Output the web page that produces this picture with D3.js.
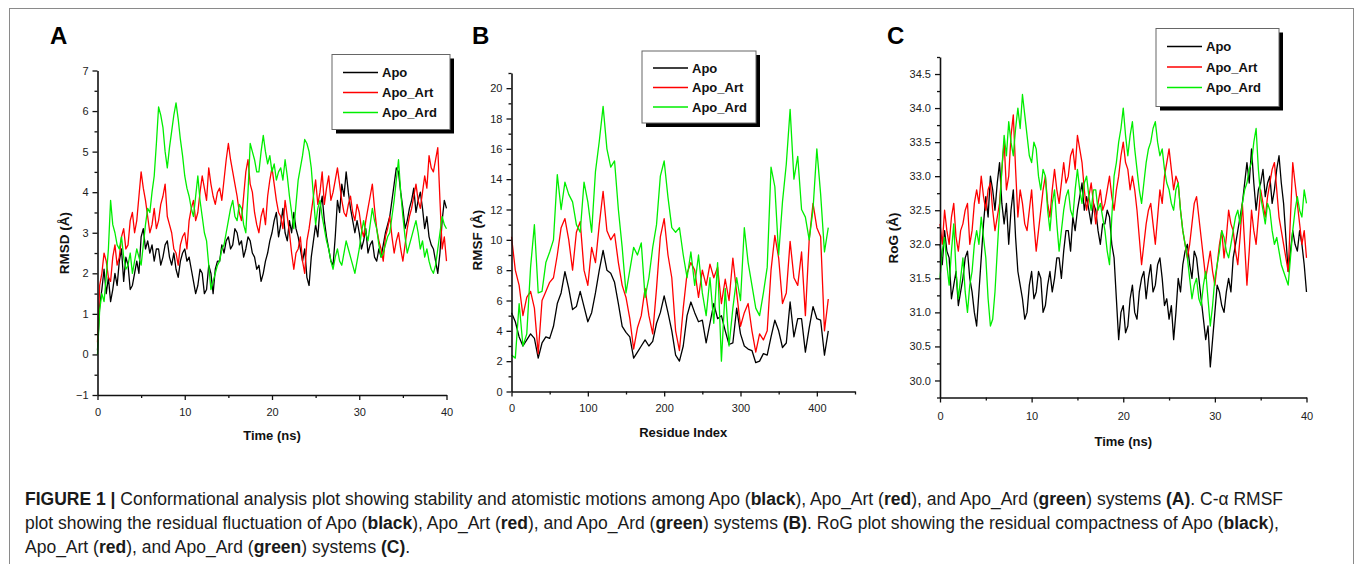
<!DOCTYPE html>
<html>
<head>
<meta charset="utf-8">
<script src="https://cdn.jsdelivr.net/npm/d3@7"></script>
<style>
  body { margin: 0; background: #fff; }
  svg { display: block; font-family: "Liberation Sans", Arial, Helvetica, sans-serif; }
</style>
</head>
<body>
<svg id="fig" width="1358" height="564"></svg>
<script>
// ---- data ----
// simulation time (ns), sampled every 0.25 ns
const timeNs = [0,0.25,0.5,0.75,1,1.25,1.5,1.75,2,2.25,2.5,2.75,3,3.25,3.5,3.75,4,4.25,4.5,4.75,
  5,5.25,5.5,5.75,6,6.25,6.5,6.75,7,7.25,7.5,7.75,8,8.25,8.5,8.75,9,9.25,9.5,9.75,
  10,10.25,10.5,10.75,11,11.25,11.5,11.75,12,12.25,12.5,12.75,13,13.25,13.5,13.75,14,14.25,14.5,14.75,
  15,15.25,15.5,15.75,16,16.25,16.5,16.75,17,17.25,17.5,17.75,18,18.25,18.5,18.75,19,19.25,19.5,19.75,
  20,20.25,20.5,20.75,21,21.25,21.5,21.75,22,22.25,22.5,22.75,23,23.25,23.5,23.75,24,24.25,24.5,24.75,
  25,25.25,25.5,25.75,26,26.25,26.5,26.75,27,27.25,27.5,27.75,28,28.25,28.5,28.75,29,29.25,29.5,29.75,
  30,30.25,30.5,30.75,31,31.25,31.5,31.75,32,32.25,32.5,32.75,33,33.25,33.5,33.75,34,34.25,34.5,34.75,
  35,35.25,35.5,35.75,36,36.25,36.5,36.75,37,37.25,37.5,37.75,38,38.25,38.5,38.75,39,39.25,39.5,39.75,
  40];

// A: RMSD (Å)
const rmsdApo = [0.1,1.2,1.6,2.1,1.5,1.9,1.3,1.6,2.0,1.7,2.3,2.6,1.8,2.4,2.2,1.6,1.7,2.0,2.3,2.0,
  2.9,3.1,2.6,2.8,2.5,2.7,2.3,2.6,2.6,2.2,2.4,2.7,2.8,2.4,2.2,2.5,2.1,1.9,2.3,2.5,
  2.6,2.3,2.4,2.1,1.8,1.5,1.7,2.1,2.0,1.5,1.6,2.2,2.0,1.5,2.1,2.3,2.3,2.7,2.5,2.8,
  2.9,2.6,2.7,3.1,3.0,2.7,2.8,2.4,2.6,2.9,2.8,2.5,2.4,2.1,2.2,1.8,2.0,2.3,2.5,2.8,
  3.0,3.3,3.5,2.9,3.2,3.6,3.0,2.8,3.3,3.0,3.5,3.1,2.9,2.6,2.3,2.6,1.9,1.7,2.4,2.8,
  3.2,2.9,3.6,3.9,3.3,2.9,2.6,2.3,2.2,2.9,3.8,3.5,4.2,3.9,4.5,4.0,3.6,3.3,3.0,3.3,
  3.0,2.6,2.8,3.1,2.5,2.7,2.8,2.4,2.3,2.6,2.4,2.7,3.0,3.2,3.4,3.8,4.2,4.6,4.5,4.0,
  3.6,3.1,3.3,3.6,3.8,4.1,3.5,3.8,4.0,3.6,3.1,3.4,2.9,2.7,2.6,2.3,2.0,2.5,3.3,3.8,
  3.6];
const rmsdArt = [0.3,1.7,2.0,2.5,2.3,1.9,1.8,2.4,2.7,2.2,2.4,2.9,3.1,2.6,2.7,3.3,3.5,3.0,3.3,3.9,
  4.5,4.1,3.8,3.4,3.0,3.2,3.6,3.1,3.3,3.7,3.9,4.2,3.4,3.2,3.0,2.6,2.5,2.2,2.7,2.9,
  3.0,2.6,3.3,3.6,3.8,3.3,3.5,4.0,4.4,4.1,3.8,4.6,4.2,3.9,3.7,4.0,4.1,3.8,4.3,4.8,
  5.2,4.8,4.5,4.2,3.9,3.5,3.3,3.9,4.5,4.8,4.2,4.0,3.5,3.2,3.0,3.4,3.6,3.2,3.9,4.3,
  4.6,4.2,3.8,3.5,3.4,3.1,3.8,3.4,3.0,2.5,2.1,2.5,2.6,2.9,2.3,2.0,2.8,3.1,3.5,3.9,
  4.3,3.7,4.0,4.5,3.7,4.1,4.4,3.8,4.0,4.3,4.6,4.2,3.8,3.5,3.4,3.7,3.9,3.5,3.3,3.7,
  3.5,3.1,2.9,3.3,3.6,3.9,4.2,3.6,3.1,2.8,2.6,2.3,2.9,3.1,3.4,2.9,2.5,2.8,3.0,2.6,
  2.3,2.7,3.1,3.4,3.6,3.9,4.2,3.8,3.6,4.0,4.4,4.1,4.9,4.6,4.5,4.8,5.1,3.8,2.6,2.9,
  2.3];
const rmsdArd = [0.0,1.1,1.5,1.3,1.9,2.6,3.8,3.2,3.0,2.7,2.6,2.9,2.4,2.1,2.2,2.5,2.0,2.3,2.6,2.4,
  2.2,2.7,3.2,3.6,3.5,4.0,4.4,5.2,6.1,5.9,5.6,5.0,4.6,5.1,5.5,5.9,6.2,5.8,5.3,4.9,
  4.4,4.1,3.9,3.6,3.4,3.9,4.4,3.8,3.4,3.0,2.8,2.2,1.6,1.8,2.0,2.2,2.3,2.6,2.7,3.0,
  3.3,3.6,3.8,3.4,3.3,3.7,3.6,3.2,3.0,4.0,5.2,5.0,4.8,4.5,4.5,5.0,5.4,5.0,4.7,4.9,
  4.5,4.7,4.3,4.5,4.6,4.3,4.8,4.4,3.9,3.5,3.1,3.7,4.3,4.6,4.9,5.3,5.2,5.0,4.6,3.9,
  3.2,3.6,3.8,3.4,3.1,2.8,2.6,2.3,2.1,2.4,2.6,2.3,2.2,2.5,2.8,2.6,2.4,2.2,2.0,2.3,
  2.6,3.0,3.3,3.0,2.8,3.2,3.6,3.3,3.1,2.7,2.4,2.5,2.7,2.9,3.0,3.4,3.8,4.3,4.8,4.0,
  3.4,2.9,2.5,2.7,2.9,3.1,3.3,3.0,2.6,2.8,2.4,2.6,2.3,2.1,2.0,2.2,2.6,3.0,3.4,3.2,
  3.1];

// B: RMSF (Å) per residue
const residueIndex = [0,5,10,15,20,25,30,35,40,45,50,55,60,65,70,75,80,85,90,95,
  100,105,110,115,120,125,130,135,140,145,150,155,160,165,170,175,180,185,190,195,
  200,205,210,215,220,225,230,235,240,245,250,255,260,265,270,275,280,285,290,295,
  300,305,310,315,320,325,330,335,340,345,350,355,360,365,370,375,380,385,390,395,
  400,405,410,415];
const rmsfApo = [5.2,4.6,3.6,3.0,3.4,3.8,3.5,2.2,3.2,3.6,
  3.5,4.3,5.8,6.5,7.9,6.8,5.4,5.6,6.6,5.6,
  4.6,5.2,6.5,8.0,9.3,8.0,7.8,7.2,5.8,4.3,
  3.9,3.6,2.2,2.6,3.0,3.4,3.0,3.3,4.5,5.2,
  6.3,5.2,4.0,2.4,2.0,3.0,5.0,5.9,5.2,4.6,
  4.7,3.2,4.5,5.8,4.8,5.0,4.0,3.1,3.2,5.5,
  3.8,3.0,2.8,2.7,1.9,2.0,2.5,2.4,3.6,4.7,
  4.0,2.9,3.2,5.9,3.6,4.8,4.8,2.6,4.2,5.6,
  4.8,4.7,2.4,4.0];
const rmsfArt = [10.2,8.0,7.0,5.0,6.2,6.6,5.5,2.5,6.0,6.6,
  7.2,7.5,9.0,10.8,11.4,10.0,8.0,10.5,11.2,8.0,
  7.0,9.5,8.5,11.0,13.2,10.6,10.0,10.4,8.5,7.0,
  6.2,4.8,2.8,4.2,5.0,6.8,5.0,3.8,6.8,10.2,
  11.4,9.0,7.5,4.0,2.7,5.5,7.8,8.5,8.0,6.2,
  8.0,7.0,8.4,7.5,8.2,5.8,7.4,6.0,8.8,6.5,
  4.3,5.2,5.8,4.0,2.6,3.8,3.4,4.0,8.0,10.3,
  8.8,5.8,6.5,9.9,7.5,7.0,9.2,5.0,10.0,12.4,
  10.8,10.2,4.0,6.1];
const rmsfArd = [2.4,2.2,5.8,3.0,3.8,8.2,11.0,6.5,6.6,8.5,
  9.2,10.0,14.3,12.0,13.8,13.0,12.5,11.0,10.5,13.8,
  12.5,10.5,14.5,16.5,18.8,16.0,14.8,15.2,12.0,9.5,
  6.5,8.0,9.5,9.0,9.8,6.2,7.5,9.5,11.0,14.2,
  15.2,12.8,10.8,10.5,10.8,9.0,7.5,9.2,7.0,9.0,
  6.5,5.0,7.5,4.5,8.5,2.0,6.8,3.0,5.5,7.5,
  6.0,10.8,8.5,7.0,5.5,5.0,6.5,8.2,14.8,13.5,
  9.0,12.5,15.0,18.6,14.0,15.5,12.0,11.5,10.0,12.0,
  16.0,13.0,9.2,10.8];

// C: radius of gyration (Å), same time samples as A
const rogApo = [32.0,31.7,32.2,31.9,31.8,31.2,31.4,31.6,31.1,31.3,31.5,31.8,31.9,31.5,31.3,31.0,30.8,31.3,31.8,32.3,
  32.7,32.4,33.0,32.8,32.5,32.9,33.2,32.6,32.3,32.6,32.0,32.5,32.8,32.1,31.6,31.4,31.2,30.9,31.0,31.4,
  31.6,31.2,31.3,31.6,31.5,31.0,31.1,31.4,31.6,31.3,31.5,31.8,31.8,31.5,31.9,32.2,32.2,31.9,32.4,32.2,
  32.5,32.7,32.9,32.5,32.7,32.5,32.3,32.6,32.5,32.2,32.0,32.3,32.3,32.5,32.4,32.0,31.8,31.2,30.6,31.0,
  31.1,30.7,30.8,31.2,31.4,31.0,30.9,31.3,31.5,31.6,31.2,31.5,31.7,31.3,31.4,31.7,31.8,31.5,31.1,31.2,
  30.9,31.1,30.6,31.0,31.5,31.3,31.7,31.9,32.0,31.7,31.5,31.9,31.8,31.5,31.2,30.9,30.6,30.8,30.2,30.6,
  31.0,31.4,31.3,31.1,31.0,31.3,31.5,31.3,31.8,32.0,32.2,32.4,32.6,32.9,33.2,32.9,33.4,32.9,32.5,32.8,
  32.9,33.1,32.7,32.9,33.0,32.6,32.8,33.1,33.3,32.9,32.6,32.1,31.6,31.9,32.2,32.0,31.9,32.2,32.0,31.7,
  31.3];
const rogArt = [32.3,32.0,32.5,32.2,32.0,32.4,32.6,32.1,31.9,32.2,32.3,32.5,32.6,32.0,32.2,32.6,32.8,32.6,33.0,32.7,
  32.5,32.8,32.9,32.5,32.2,32.4,32.6,33.1,33.5,32.8,33.0,33.6,33.9,33.1,32.4,32.8,32.6,32.3,32.2,32.5,
  32.8,32.3,31.9,32.2,32.5,32.8,33.0,32.6,32.4,32.8,33.1,32.8,32.6,32.9,33.2,32.9,33.0,33.3,33.4,33.1,
  33.6,33.4,33.2,32.8,32.5,32.7,32.9,32.6,32.3,32.6,32.8,32.5,32.6,32.8,33.0,32.7,32.5,32.8,33.0,33.3,
  33.5,33.2,33.1,32.8,33.0,32.8,32.5,32.1,31.7,32.0,32.3,32.5,32.6,32.3,32.0,32.4,32.8,32.6,33.0,33.2,
  33.4,33.1,32.8,33.0,32.9,32.5,32.2,32.0,31.8,32.0,32.3,32.6,32.7,32.4,32.1,31.8,31.5,31.7,31.9,31.6,
  31.4,31.7,32.0,32.2,31.8,32.1,32.5,32.3,32.2,31.9,31.7,32.1,32.6,32.0,31.4,31.9,32.5,32.2,32.0,32.4,
  32.8,32.6,32.4,32.7,32.9,33.1,33.2,32.8,32.4,32.2,32.0,31.8,31.6,32.4,33.2,32.9,32.6,32.3,32.0,32.2,
  31.8];
const rogArd = [31.5,31.9,32.1,31.7,31.4,31.9,32.3,31.6,31.2,31.5,31.8,31.3,31.0,31.4,31.6,32.0,32.2,32.0,32.4,32.1,
  31.8,31.2,30.8,30.9,31.3,31.9,32.5,33.1,33.6,33.3,33.8,33.5,33.3,33.7,34.0,33.7,34.2,33.9,33.6,33.3,
  33.2,33.5,33.4,33.0,32.8,33.1,33.0,32.5,32.2,32.6,32.8,32.3,31.9,32.2,32.5,32.7,32.8,32.5,32.4,32.8,
  33.1,32.8,32.6,32.9,33.0,32.7,32.5,32.8,32.8,32.5,32.6,32.4,32.2,31.9,31.7,32.4,33.0,33.2,33.5,33.7,
  34.0,33.6,33.3,33.6,33.8,33.4,33.1,32.8,32.6,32.9,33.2,33.4,33.5,33.7,33.8,33.5,33.3,33.4,33.1,32.9,
  32.8,32.6,32.5,32.8,32.9,32.5,32.2,32.0,31.8,31.5,31.2,31.4,31.5,31.2,31.1,31.4,31.6,31.2,30.8,31.1,
  31.5,31.7,31.9,32.2,32.1,31.9,31.8,32.0,32.2,32.4,32.5,32.3,32.6,32.8,32.9,33.1,33.2,33.5,33.7,33.1,
  32.7,32.5,32.3,32.6,32.5,32.2,32.0,32.1,31.9,31.7,31.6,31.5,31.4,31.8,32.2,32.5,32.7,32.5,32.4,32.8,
  32.6];

const seriesNames = ["Apo", "Apo_Art", "Apo_Ard"];
const seriesColors = ["#000000", "#ff0000", "#00ee00"];

// ticks
const timeTicks = [0, 10, 20, 30, 40];
const timeMinor = [5, 15, 25, 35];
const rmsdTicks = [-1, 0, 1, 2, 3, 4, 5, 6, 7];
const rmsdMinor = [-0.5, 0.5, 1.5, 2.5, 3.5, 4.5, 5.5, 6.5];
const residueTicks = [0, 100, 200, 300, 400];
const residueMinor = [50, 150, 250, 350, 450];
const rmsfTicks = [0, 2, 4, 6, 8, 10, 12, 14, 16, 18, 20];
const rmsfMinor = [1, 3, 5, 7, 9, 11, 13, 15, 17, 19, 21];
const rogTicks = [30.0, 30.5, 31.0, 31.5, 32.0, 32.5, 33.0, 33.5, 34.0, 34.5];
const rogMinor = [29.75, 30.25, 30.75, 31.25, 31.75, 32.25, 32.75, 33.25, 33.75, 34.25, 34.75];

// caption, as [text, bold] pieces per line
const captionLines = [
  [["FIGURE 1 | ", true], ["Conformational analysis plot showing stability and atomistic motions among Apo (", false],
   ["black", true], ["), Apo_Art (", false], ["red", true], ["), and Apo_Ard (", false], ["green", true],
   [") systems ", false], ["(A)", true], [". C-\u03B1 RMSF", false]],
  [["plot showing the residual fluctuation of Apo (", false], ["black", true], ["), Apo_Art (", false], ["red", true],
   ["), and Apo_Ard (", false], ["green", true], [") systems ", false], ["(B)", true],
   [". RoG plot showing the residual compactness of Apo (", false], ["black", true], ["),", false]],
  [["Apo_Art (", false], ["red", true], ["), and Apo_Ard (", false], ["green", true], [") systems ", false],
   ["(C)", true], [".", false]]
];

const svg = d3.select("#fig");

// outer frame
svg.append("rect")
  .attr("x", 9.5).attr("y", 8.5)
  .attr("width", 1344).attr("height", 600)
  .attr("fill", "none").attr("stroke", "#8a8a8a").attr("stroke-width", 1);

function drawPanel(p) {
  const g = svg.append("g");
  const x = d3.scaleLinear().domain(p.xDomain).range([p.left, p.right]);
  const y = d3.scaleLinear().domain(p.yDomain).range([p.bottom, p.top]);

  // lines: black first, then red, then green on top
  const line = d3.line().x((d, i) => x(p.xs[i])).y(d => y(d));
  p.series.forEach((vals, k) => {
    g.append("path")
      .datum(vals)
      .attr("d", line)
      .attr("fill", "none")
      .attr("stroke", seriesColors[k])
      .attr("stroke-width", 1.3)
      .attr("stroke-linejoin", "round");
  });

  // minor ticks
  g.append("g")
    .attr("transform", `translate(0,${p.bottom})`)
    .call(d3.axisBottom(x).tickValues(p.xMinor).tickSize(3).tickFormat("").tickSizeOuter(0))
    .call(a => a.select(".domain").remove());
  g.append("g")
    .attr("transform", `translate(${p.left},0)`)
    .call(d3.axisLeft(y).tickValues(p.yMinor).tickSize(3).tickFormat("").tickSizeOuter(0))
    .call(a => a.select(".domain").remove());

  // major axes
  const xAxis = g.append("g")
    .attr("transform", `translate(0,${p.bottom})`)
    .call(d3.axisBottom(x).tickValues(p.xTicks).tickSize(5).tickPadding(p.xPad).tickSizeOuter(0));
  const yAxis = g.append("g")
    .attr("transform", `translate(${p.left},0)`)
    .call(d3.axisLeft(y).tickValues(p.yTicks).tickSize(5).tickPadding(4).tickSizeOuter(0)
      .tickFormat(p.yFormat));

  g.selectAll(".domain").attr("stroke", "#111").attr("stroke-width", 1.6);
  g.selectAll(".tick line").attr("stroke", "#111").attr("stroke-width", 1.3);
  [xAxis, yAxis].forEach(a => a.selectAll("text")
    .attr("font-size", 11).attr("fill", "#222")
    .attr("font-family", "'Liberation Sans', Arial, sans-serif"));

  // panel letter
  g.append("text")
    .attr("x", p.letterX).attr("y", 44)
    .attr("font-size", 24).attr("font-weight", "bold")
    .text(p.letter);

  // axis titles
  g.append("text")
    .attr("x", (p.left + p.right) / 2).attr("y", p.xTitleY)
    .attr("text-anchor", "middle")
    .attr("font-size", 13).attr("font-weight", "bold").attr("fill", "#111")
    .text(p.xTitle);
  g.append("text")
    .attr("transform", `translate(${p.yTitleX},${p.yTitleCy}) rotate(-90)`)
    .attr("text-anchor", "middle")
    .attr("font-size", 13.5).attr("font-weight", "bold").attr("fill", "#111")
    .text(p.yTitle);

  // legend with drop shadow
  const L = p.legend;
  g.append("rect").attr("x", L.x + 4).attr("y", L.y + 4).attr("width", L.w).attr("height", L.h).attr("fill", "#000");
  g.append("rect").attr("x", L.x).attr("y", L.y).attr("width", L.w).attr("height", L.h)
    .attr("fill", "#fff").attr("stroke", "#666").attr("stroke-width", 1);
  seriesNames.forEach((name, k) => {
    const cy = L.y + L.first + k * L.step;
    g.append("line")
      .attr("x1", L.x + 11).attr("x2", L.x + 46)
      .attr("y1", cy).attr("y2", cy)
      .attr("stroke", seriesColors[k]).attr("stroke-width", 1.6);
    g.append("text")
      .attr("x", L.x + 50).attr("y", cy + 4.5)
      .attr("font-size", 13).attr("font-weight", "bold").attr("fill", "#111")
      .text(name);
  });
}

drawPanel({
  letter: "A", letterX: 50,
  left: 97.5, right: 446.5, top: 70.5, bottom: 395,
  xDomain: [0, 40], yDomain: [-1, 7],
  xs: timeNs, series: [rmsdApo, rmsdArt, rmsdArd],
  xTicks: timeTicks, xMinor: timeMinor, yTicks: rmsdTicks, yMinor: rmsdMinor,
  yFormat: d3.format("d"), xPad: 8,
  xTitle: "Time (ns)", xTitleY: 440, yTitle: "RMSD (\u00C5)", yTitleX: 69, yTitleCy: 243,
  legend: { x: 332, y: 54.5, w: 118, h: 75, first: 18, step: 20 }
});

drawPanel({
  letter: "B", letterX: 472,
  left: 511.5, right: 855, top: 73, bottom: 391.5,
  xDomain: [0, 450], yDomain: [0, 21],
  xs: residueIndex, series: [rmsfApo, rmsfArt, rmsfArd],
  xTicks: residueTicks, xMinor: residueMinor, yTicks: rmsfTicks, yMinor: rmsfMinor,
  yFormat: d3.format("d"), xPad: 8,
  xTitle: "Residue Index", xTitleY: 437, yTitle: "RMSF (\u00C5)", yTitleX: 482, yTitleCy: 240,
  legend: { x: 642, y: 51, w: 114, h: 72, first: 17, step: 19.5 }
});

drawPanel({
  letter: "C", letterX: 887,
  left: 940, right: 1306.5, top: 57, bottom: 397.5,
  xDomain: [0, 40], yDomain: [29.75, 34.75],
  xs: timeNs, series: [rogApo, rogArt, rogArd],
  xTicks: timeTicks, xMinor: timeMinor, yTicks: rogTicks, yMinor: rogMinor,
  yFormat: d3.format(".1f"), xPad: 10,
  xTitle: "Time (ns)", xTitleY: 446, yTitle: "RoG (\u00C5)", yTitleX: 898, yTitleCy: 238,
  legend: { x: 1156, y: 28.5, w: 123, h: 78, first: 18, step: 20.5 }
});

// caption
const cap = svg.append("text")
  .attr("font-size", 17.5)
  .attr("fill", "#1a1a1a")
  .attr("font-family", "'Liberation Sans', Arial, Helvetica, sans-serif");
captionLines.forEach((pieces, li) => {
  pieces.forEach((pc, pi) => {
    const t = cap.append("tspan").text(pc[0]).attr("font-weight", pc[1] ? "bold" : "normal");
    if (pi === 0) t.attr("x", 25).attr("y", 505 + li * 24);
  });
});
</script>
</body>
</html>
